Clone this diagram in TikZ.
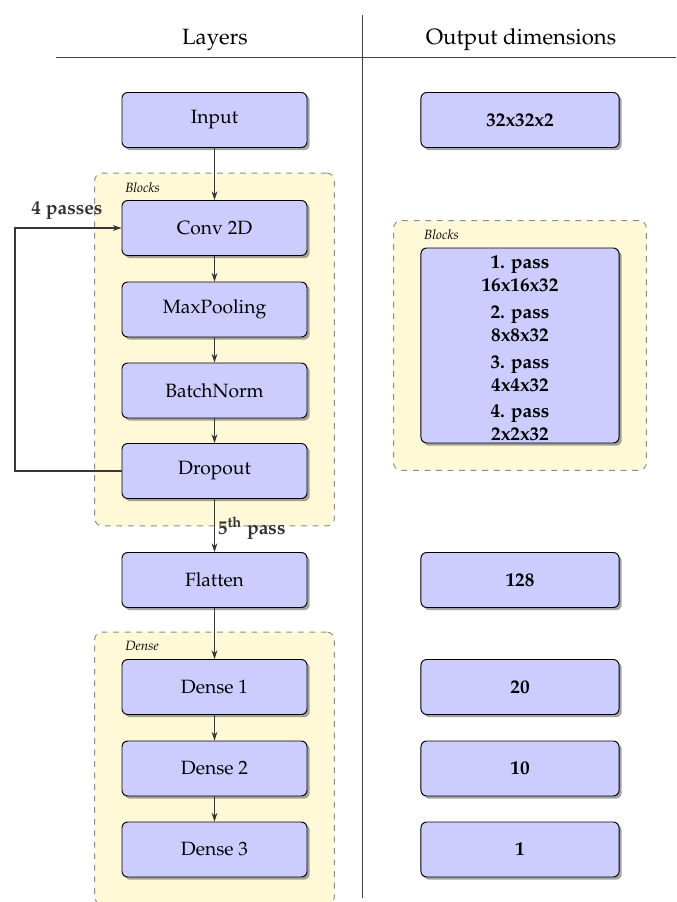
\documentclass[tikz,border=0pt]{standalone}
\usepackage[T1]{fontenc}
\usepackage{mathpazo}
\usetikzlibrary{arrows.meta,shadows,fit,backgrounds,positioning}
\definecolor{bgfill}{RGB}{255,249,215}
\definecolor{boxfill}{RGB}{204,204,255}
\definecolor{linecol}{RGB}{55,55,55}
\begin{document}
\begin{tikzpicture}[x=0.52pt,y=-0.52pt,
  layerbox/.style={draw=black, fill=boxfill, rounded corners=3pt, line width=0.5pt,
    minimum width=96.2pt, minimum height=28.6pt, inner sep=0pt,
    drop shadow={shadow xshift=1.4pt, shadow yshift=-1.4pt, opacity=0.55, fill=black!65}},
  outbox/.style={layerbox, minimum width=103pt, font=\bfseries},
  groupbg/.style={draw=black!45, dashed, fill=bgfill, rounded corners=4pt, inner sep=14pt, line width=0.5pt},
  grouplabel/.style={font=\scriptsize\itshape, anchor=north west, inner sep=0pt},
  arr/.style={draw=linecol, line width=0.55pt, -{Stealth[length=4.5pt,width=3pt]}},
  rule/.style={draw=black!75, line width=0.5pt},
  head/.style={font=\fontsize{11.5}{14}\selectfont},
  passlabel/.style={font=\bfseries, text=black!80}
]
\useasboundingbox (0,0) rectangle (676,902);

% headers
\node[head] (hl) at (215,40) {Layers};
\node[head] (hr) at (521,40) {Output dimensions};
\coordinate (hlineL) at (56,57);
\coordinate (hlineR) at (676,57);
\coordinate (vlineT) at (362,15);
\coordinate (vlineB) at (362,898);
\draw[rule] (hlineL) -- (hlineR);
\draw[rule] (vlineT) -- (vlineB);

% left column
\node[layerbox] (input) at (214.5,120) {Input};
\node[layerbox] (conv) at (214.5,228) {Conv 2D};
\node[layerbox] (pool) at (214.5,309.5) {MaxPooling};
\node[layerbox] (bn) at (214.5,390.5) {BatchNorm};
\node[layerbox] (drop) at (214.5,471) {Dropout};
\node[layerbox] (flat) at (214.5,580) {Flatten};
\node[layerbox] (d1) at (214.5,687) {Dense 1};
\node[layerbox] (d2) at (214.5,768.5) {Dense 2};
\node[layerbox] (d3) at (214.5,849.5) {Dense 3};

% right column
\node[outbox] (oin) at (520,120) {32x32x2};
\node[outbox, minimum height=101.4pt] (oblk) at (520,345.5) {};
\node[font=\bfseries, align=center, inner sep=0pt] (oblktext) at (520,348.5)
  {1. pass\\16x16x32\\[1.8pt]2. pass\\8x8x32\\[1.8pt]3. pass\\4x4x32\\[1.8pt]4. pass\\2x2x32};
\node[outbox] (oflat) at (520,580) {128};
\node[outbox] (o1) at (520,687) {20};
\node[outbox] (o2) at (520,768.5) {10};
\node[outbox] (o3) at (520,849.5) {1};

% backgrounds
\begin{scope}[on background layer]
  \node[groupbg, fit=(conv)(drop)] (bgblocks) {};
  \node[groupbg, fit=(d1)(d3)] (bgdense) {};
  \node[groupbg, fit=(oblk)] (bgoblocks) {};
\end{scope}
\node[grouplabel] (lblA) at ([xshift=16pt,yshift=-5pt]bgblocks.north west) {Blocks};
\node[grouplabel] (lblB) at ([xshift=16pt,yshift=-5pt]bgdense.north west) {Dense};
\node[grouplabel] (lblC) at ([xshift=16pt,yshift=-5pt]bgoblocks.north west) {Blocks};

% connectors
\draw[arr] (input) -- (conv);
\draw[arr] (conv) -- (pool);
\draw[arr] (pool) -- (bn);
\draw[arr] (bn) -- (drop);
\draw[arr] (drop) -- node[passlabel, right, inner sep=1.5pt, yshift=-1.6pt] (fifth) {5\textsuperscript{th} pass} (flat);
\draw[arr] (flat) -- (d1);
\draw[arr] (d1) -- (d2);
\draw[arr] (d2) -- (d3);

\coordinate (loopc) at (15,350);
\draw[arr] (drop.west) -| (loopc) |- (conv.west);
\node[passlabel] (passes) at (67,211) {4 passes};
\end{tikzpicture}
\end{document}
